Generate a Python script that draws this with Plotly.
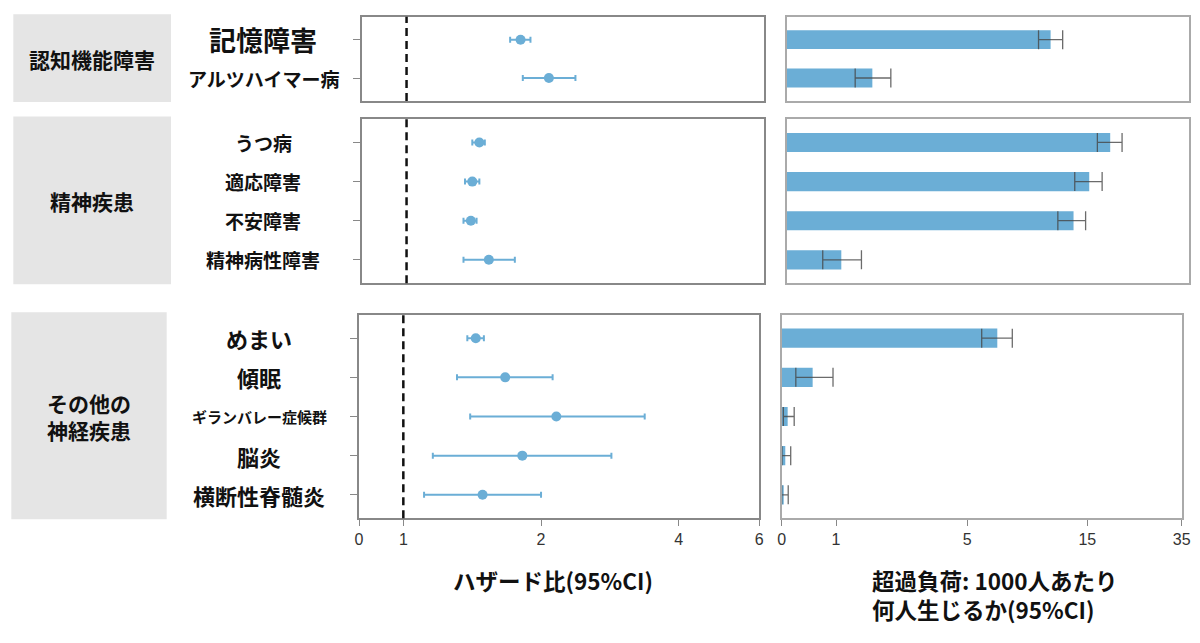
import numpy as np
import plotly.graph_objects as go

# --- data ---
groups = ["認知機能障害", "精神疾患", "その他の<br>神経疾患"]

rows_cog = ["記憶障害", "アルツハイマー病"]
rows_psy = ["うつ病", "適応障害", "不安障害", "精神病性障害"]
rows_neu = ["めまい", "傾眠", "ギランバレー症候群", "脳炎", "横断性脊髄炎"]

# hazard ratio, lower, upper
hr_cog = [1.77, 2.04]
hr_cog_lo = [1.68, 1.79]
hr_cog_hi = [1.86, 2.33]
hr_psy = [1.44, 1.39, 1.38, 1.51]
hr_psy_lo = [1.39, 1.34, 1.33, 1.33]
hr_psy_hi = [1.48, 1.44, 1.42, 1.72]
hr_neu = [1.44, 1.67, 2.16, 1.82, 1.49]
hr_neu_lo = [1.38, 1.31, 1.40, 1.16, 1.11]
hr_neu_hi = [1.50, 2.12, 3.37, 2.85, 2.00]

# excess burden per 1000, lower, upper
eb_cog = [11.4, 1.94]
eb_cog_lo = [10.4, 1.42]
eb_cog_hi = [12.4, 2.5]
eb_psy = [18.4, 14.6, 13.3, 1.0]
eb_psy_lo = [15.7, 13.4, 12.0, 0.66]
eb_psy_hi = [20.9, 16.7, 14.3, 1.61]
eb_neu = [7.5, 0.57, 0.11, 0.066, 0.02]
eb_neu_lo = [6.2, 0.26, 0.03, 0.005, 0.0]
eb_neu_hi = [8.75, 0.945, 0.23, 0.166, 0.12]

hr_ticks = [0.8, 1, 2, 4, 6]
hr_ticktext = ["0", "1", "2", "4", "6"]
eb_ticks = [0, 1, 5, 15, 35]
eb_tickpos = [0, 54.3, 185.6, 305.6, 400]   # where the custom scale puts each tick

BLUE = "#6baed6"
W, H = 1200, 643


def eb_scale(v):
    return np.interp(np.asarray(v, dtype=float), eb_ticks, eb_tickpos) / 400.0


def xd(a, b):
    return [a / W, b / W]


def yd(top, bottom):
    return [1 - bottom / H, 1 - top / H]


def ref(letter, k):
    return letter if k == 1 else f"{letter}{k}"


panels = [
    # rows, hr, lo, hi, eb, lo, hi, forest x px, bar x px, y px
    (rows_cog, hr_cog, hr_cog_lo, hr_cog_hi, eb_cog, eb_cog_lo, eb_cog_hi,
     (362, 764.3), (786.7, 1189), (16.7, 101)),
    (rows_psy, hr_psy, hr_psy_lo, hr_psy_hi, eb_psy, eb_psy_lo, eb_psy_hi,
     (362, 764.3), (786.7, 1189), (119, 283.3)),
    (rows_neu, hr_neu, hr_neu_lo, hr_neu_hi, eb_neu, eb_neu_lo, eb_neu_hi,
     (359, 759.3), (781.7, 1181.7), (314.7, 518.3)),
]

fig = go.Figure()
layout = dict(
    width=W, height=H, margin=dict(l=0, r=0, t=0, b=0, autoexpand=False),
    paper_bgcolor="white", plot_bgcolor="white", showlegend=False,
    font=dict(family="Noto Sans CJK JP", color="#111"),
)
shapes = []
annotations = []

for i, (rows, hr, lo, hi, eb, elo, ehi, fx, bx, ypx) in enumerate(panels):
    n = len(rows)
    last = i == len(panels) - 1
    fa = 2 * i + 1
    ba = 2 * i + 2
    fxn, fyn = ref("x", fa), ref("y", fa)
    bxn, byn = ref("x", ba), ref("y", ba)
    idx = list(range(n))

    # forest plot
    hr = np.array(hr)
    fig.add_trace(go.Scatter(
        x=hr, y=idx, mode="markers", xaxis=fxn, yaxis=fyn,
        marker=dict(color=BLUE, size=10),
        error_x=dict(type="data", symmetric=False,
                     array=np.array(hi) - hr, arrayminus=hr - np.array(lo),
                     color=BLUE, thickness=2, width=3),
    ))
    # bars
    ev = eb_scale(eb)
    fig.add_trace(go.Bar(
        x=ev, y=idx, orientation="h", xaxis=bxn, yaxis=byn, width=0.49,
        marker=dict(color=BLUE, line=dict(width=0)),
        error_x=dict(type="data", symmetric=False,
                     array=eb_scale(ehi) - ev, arrayminus=ev - eb_scale(elo),
                     color="rgba(70,70,70,0.8)", thickness=1.3, width=9.5),
    ))

    yax = dict(domain=yd(*ypx), range=[n - 1 + 0.6, -0.6], automargin=False,
               showline=True, mirror=True, linecolor="#888", linewidth=1.5,
               showgrid=False, zeroline=False, showticklabels=False)
    layout[ref("yaxis", fa)] = dict(yax, anchor=fxn, tickvals=idx, ticks="outside",
                                    ticklen=7, tickcolor="#888")
    layout[ref("yaxis", ba)] = dict(yax, anchor=bxn, linecolor="#aaa", ticks="")

    tickfont = dict(family="Liberation Sans, Arial", size=16, color="#333")
    layout[ref("xaxis", fa)] = dict(
        domain=xd(*fx), anchor=fyn, type="log", automargin=False,
        range=[np.log10(0.8), np.log10(6)],
        tickvals=hr_ticks, ticktext=hr_ticktext,
        showticklabels=last, ticks="outside" if last else "", ticklen=6,
        tickcolor="#888", tickfont=tickfont,
        showline=True, mirror=True, linecolor="#888", linewidth=1.5,
        showgrid=False, zeroline=False)
    layout[ref("xaxis", ba)] = dict(
        domain=xd(*bx), anchor=byn, range=[0, 1], automargin=False,
        tickvals=eb_scale(eb_ticks), ticktext=[str(t) for t in eb_ticks],
        showticklabels=last, ticks="outside" if last else "", ticklen=6,
        tickcolor="#888", tickfont=tickfont,
        showline=True, mirror=True, linecolor="#aaa", linewidth=1.5,
        showgrid=False, zeroline=False)

    # reference line at HR = 1
    shapes.append(dict(type="line", xref=fxn, yref=f"{fyn} domain",
                       x0=1, x1=1, y0=0, y1=1,
                       line=dict(color="#111", width=2.5, dash="8px,5px")))

    # grey group box
    gx0, gx1 = (13.3, 171) if not last else (11.3, 166.7)
    shapes.append(dict(type="rect", xref="paper", yref="paper",
                       x0=gx0 / W, x1=gx1 / W,
                       y0=1 - (ypx[1] + 1) / H, y1=1 - (ypx[0] - 2.5) / H,
                       fillcolor="#e5e5e5", line=dict(width=0), layer="below"))
    annotations.append(dict(
        xref="paper", yref="paper", x=(gx0 + gx1) / 2 / W,
        y=1 - (ypx[0] + ypx[1]) / 2 / H, text=f"<b>{groups[i]}</b>",
        showarrow=False, font=dict(size=21), xanchor="center", yanchor="middle"))

    # row labels
    cx = 263 if not last else 259
    for j, r in enumerate(rows):
        size = 19
        if r == "記憶障害":
            size = 27
        elif last:
            size = 15 if r == "ギランバレー症候群" else 22
        annotations.append(dict(
            xref="paper", yref=fyn, x=cx / W, y=j, text=f"<b>{r}</b>",
            showarrow=False, font=dict(size=size),
            xanchor="center", yanchor="middle"))

# axis titles
annotations.append(dict(
    xref="paper", yref="paper", x=553 / W, y=1 - 580 / H,
    text="<b>ハザード比(95%CI)</b>", showarrow=False, font=dict(size=22.5),
    xanchor="center", yanchor="middle"))
for k, line in enumerate(["超過負荷: 1000人あたり", "何人生じるか(95%CI)"]):
    annotations.append(dict(
        xref="paper", yref="paper", x=870 / W, y=1 - (580 + 28.5 * k) / H,
        text=f"<b>{line}</b>", showarrow=False,
        font=dict(size=22.5), xanchor="left", yanchor="middle"))

layout["shapes"] = shapes
layout["annotations"] = annotations
fig.update_layout(**layout)

fig.write_html(
    "out.html",
    config={"displayModeBar": False},
    post_script="document.body.style.margin='0';document.body.style.overflow='hidden';",
)
